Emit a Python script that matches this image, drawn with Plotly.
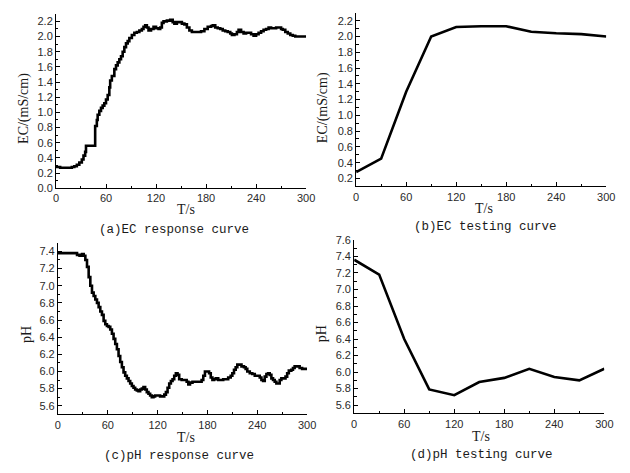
import plotly.graph_objects as go

# ---- data ----
# (a) EC response curve, sampled from the sensor log
t_ec_resp = [0, 5, 10, 15, 19, 22, 25, 28, 31, 33, 35, 36, 46, 47, 49, 50, 52, 54, 56, 58, 60, 62, 64, 65, 67,
             70, 72, 74, 76, 78, 80, 82, 84, 86, 88, 91, 94, 97, 100, 103, 105, 107, 109, 111, 114, 117, 120,
             123, 125, 127, 129, 133, 137, 140, 142, 145, 148, 151, 154, 157, 160, 163, 166, 170, 174, 178,
             182, 186, 188, 191, 194, 197, 200, 203, 206, 209, 211, 214, 217, 219, 222, 225, 228, 231, 234,
             237, 240, 243, 246, 249, 252, 255, 258, 261, 264, 267, 270, 272, 275, 278, 281, 284, 287, 290,
             295, 300]
ec_resp = [0.28, 0.27, 0.27, 0.27, 0.28, 0.29, 0.31, 0.34, 0.38, 0.43, 0.48, 0.56, 0.56, 0.82, 0.90, 0.97, 1.02,
           1.06, 1.09, 1.12, 1.17, 1.23, 1.33, 1.42, 1.48, 1.57, 1.62, 1.66, 1.70, 1.74, 1.80, 1.86, 1.91, 1.94,
           1.98, 2.02, 2.05, 2.06, 2.08, 2.10, 2.13, 2.15, 2.12, 2.08, 2.10, 2.13, 2.11, 2.10, 2.12, 2.18, 2.20,
           2.21, 2.22, 2.19, 2.17, 2.19, 2.19, 2.17, 2.16, 2.12, 2.08, 2.06, 2.06, 2.06, 2.07, 2.10, 2.13, 2.14,
           2.15, 2.12, 2.11, 2.10, 2.08, 2.07, 2.06, 2.04, 2.02, 2.03, 2.06, 2.09, 2.06, 2.04, 2.05, 2.05, 2.03,
           2.01, 2.03, 2.05, 2.07, 2.09, 2.10, 2.12, 2.11, 2.11, 2.12, 2.12, 2.10, 2.09, 2.06, 2.04, 2.02, 2.01,
           2.00, 2.00, 2.00, 2.00]

# (b) EC testing curve, one sample every 30 s
t_test = [0, 30, 60, 90, 120, 150, 180, 210, 240, 270, 300]
ec_test = [0.28, 0.45, 1.30, 2.00, 2.12, 2.13, 2.13, 2.06, 2.04, 2.03, 2.00]

# (c) pH response curve
t_ph_resp = [0, 10, 20, 23, 26, 29, 31, 33, 35, 37, 39, 41, 43, 45, 47, 49, 51, 53, 55, 57, 59, 61, 63, 65, 67,
             69, 71, 73, 75, 77, 79, 81, 83, 85, 87, 89, 91, 93, 95, 97, 99, 101, 103, 105, 107, 109, 111, 113,
             115, 117, 120, 123, 126, 128, 130, 132, 134, 136, 138, 140, 142, 144, 146, 149, 152, 155, 157, 159,
             162, 166, 170, 173, 175, 177, 180, 182, 184, 186, 188, 190, 193, 196, 199, 202, 205, 208, 210, 212,
             214, 216, 219, 221, 224, 226, 228, 231, 234, 237, 240, 243, 245, 247, 249, 251, 253, 255, 257, 259,
             261, 263, 265, 267, 269, 272, 274, 276, 278, 281, 283, 285, 288, 291, 294, 297, 300]
ph_resp = [7.38, 7.38, 7.38, 7.36, 7.35, 7.37, 7.35, 7.30, 7.22, 7.10, 7.00, 6.92, 6.88, 6.84, 6.80, 6.75, 6.70,
           6.66, 6.59, 6.55, 6.53, 6.52, 6.49, 6.44, 6.38, 6.32, 6.26, 6.18, 6.11, 6.05, 5.99, 5.95, 5.92, 5.89,
           5.86, 5.83, 5.81, 5.79, 5.78, 5.77, 5.79, 5.80, 5.82, 5.79, 5.76, 5.74, 5.72, 5.70, 5.71, 5.72, 5.72,
           5.71, 5.71, 5.73, 5.76, 5.81, 5.86, 5.89, 5.91, 5.95, 5.98, 5.96, 5.91, 5.90, 5.90, 5.88, 5.85, 5.87,
           5.88, 5.88, 5.88, 5.90, 5.95, 6.00, 6.00, 5.98, 5.93, 5.90, 5.91, 5.92, 5.90, 5.90, 5.91, 5.91, 5.93,
           5.95, 5.98, 6.02, 6.05, 6.08, 6.08, 6.06, 6.05, 6.03, 6.00, 5.98, 5.97, 5.95, 5.95, 5.93, 5.90, 5.89,
           5.94, 5.97, 5.98, 5.96, 5.92, 5.90, 5.88, 5.86, 5.86, 5.90, 5.92, 5.92, 5.94, 5.98, 6.01, 6.02, 6.04,
           6.06, 6.06, 6.04, 6.03, 6.03, 6.03]

# (d) pH testing curve
ph_test = [7.36, 7.18, 6.40, 5.79, 5.72, 5.88, 5.93, 6.04, 5.94, 5.90, 6.04]

captions = ["(a)EC response curve", "(b)EC testing curve",
            "(c)pH response curve", "(d)pH testing curve"]
x_title = "T/s"
y_titles = ["EC/(mS/cm)", "EC/(mS/cm)", "pH", "pH"]
x_ticks = [0, 60, 120, 180, 240, 300]

# ---- layout helpers ----
W, H = 630, 473


def px_x(v):
    return v / W


def px_y(v):
    return 1 - v / H


# panel boxes in pixels: (left, right, top, bottom)
boxes = [(54, 309, 8, 187), (360, 615, 7, 185), (56, 310, 243, 419), (358, 613, 240, 418)]
y_ranges = [[0, 2.3], [0.1, 2.3], [5.5, 7.5], [5.5, 7.6]]
shapes = ["hv", "linear", "hv", "linear"]
series = [(t_ec_resp, ec_resp), (t_test, ec_test), (t_ph_resp, ph_resp), (t_test, ph_test)]

fig = go.Figure()
tick_font = dict(family="Liberation Sans, Arial, sans-serif", size=11, color="#2a2a2a")
layout = dict(
    width=W, height=H, margin=dict(l=0, r=0, t=0, b=0),
    paper_bgcolor="white", plot_bgcolor="white", showlegend=False,
)

for i, ((xs, ys), box, yr, shp) in enumerate(zip(series, boxes, y_ranges, shapes)):
    n = "" if i == 0 else str(i + 1)
    fig.add_trace(go.Scatter(
        x=xs, y=ys, mode="lines",
        line=dict(color="black", width=2.6, shape=shp),
        xaxis="x" + n, yaxis="y" + n, cliponaxis=False,
    ))
    l, r, t, b = box
    layout["xaxis" + n] = dict(
        domain=[px_x(l), px_x(r)], range=[0, 300], anchor="y" + n,
        tickvals=x_ticks, ticks="inside", ticklen=4, tickwidth=1, tickcolor="black",
        minor=dict(dtick=30, tick0=0, ticks="inside", ticklen=2.5, tickcolor="black"),
        showline=True, linecolor="black", linewidth=1, showgrid=False, zeroline=False,
        tickfont=tick_font, fixedrange=True,
    )
    layout["yaxis" + n] = dict(
        domain=[px_y(b), px_y(t)], range=yr, anchor="x" + n,
        dtick=0.2, tick0=0, tickformat=".1f", ticks="inside", ticklen=4, tickwidth=1,
        tickcolor="black",
        minor=dict(dtick=0.1, tick0=0, ticks="inside", ticklen=2.5, tickcolor="black"),
        showline=True, linecolor="black", linewidth=1, showgrid=False, zeroline=False,
        tickfont=tick_font, fixedrange=True,
    )

fig.update_layout(**layout)

# axis titles and captions
title_font = dict(family="Liberation Serif, Times New Roman, serif", size=14, color="#1a1a1a")
cap_font = dict(family="Liberation Mono, Courier New, monospace", size=12.5, color="#1a1a1a")
ytitle_pos = [(22, 105), (327, 104), (24, 337), (325, 336)]
xtitle_pos = [(187, 209), (490, 208), (187, 443), (487, 442)]
cap_pos = [(174, 230), (492, 227), (179, 462), (488, 461)]

for i in range(4):
    fig.add_annotation(text=y_titles[i], x=px_x(ytitle_pos[i][0]), y=px_y(ytitle_pos[i][1]),
                       xref="paper", yref="paper", textangle=-90, showarrow=False,
                       xanchor="center", yanchor="middle", font=title_font)
    fig.add_annotation(text=x_title, x=px_x(xtitle_pos[i][0]), y=px_y(xtitle_pos[i][1]),
                       xref="paper", yref="paper", showarrow=False,
                       xanchor="center", yanchor="middle", font=title_font)
    fig.add_annotation(text=captions[i], x=px_x(cap_pos[i][0]), y=px_y(cap_pos[i][1]),
                       xref="paper", yref="paper", showarrow=False,
                       xanchor="center", yanchor="middle", font=cap_font)

fig.write_html("out.html")
